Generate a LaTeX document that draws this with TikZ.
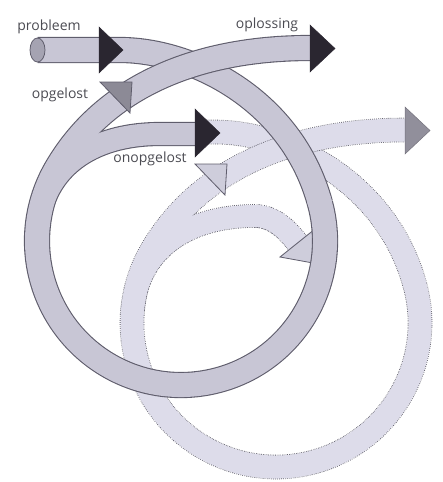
\documentclass[tikz,border=0pt]{standalone}
\usepackage{fontspec}
\setmainfont{Open Sans}
\definecolor{bandfill}{RGB}{200,198,213}
\definecolor{bandline}{RGB}{95,93,108}
\definecolor{dotfill}{RGB}{221,220,234}
\definecolor{dotline}{RGB}{100,99,112}
\definecolor{darkhead}{RGB}{42,38,48}
\definecolor{midhead}{RGB}{140,138,150}
\definecolor{lighthead}{RGB}{206,205,219}
\definecolor{grayhead}{RGB}{145,143,155}
\definecolor{capfill}{RGB}{165,163,178}
\definecolor{txt}{RGB}{75,75,82}
\def\pathA{(37.5,50) -- (120,50) .. controls (190,50) and (291.5,97.7) .. (320.09,203.73)}
\def\pathAd{(105,50) -- (120,50) .. controls (190,50) and (291.5,97.7) .. (320.09,203.73)}
\def\pathLoop{(320.09,203.73) arc[start angle=-15, end angle=210, radius=144] .. controls (101.29,91.06) and (190,48) .. (310,48)}
\def\pathLoopFill{(318.71,198.90) arc[start angle=-17, end angle=210, radius=144] .. controls (101.29,91.06) and (190,48) .. (310,48)}
\def\pathBtwo{(37.55,228.45) .. controls (42.78,168.68) and (90,134) .. (160,134) -- (197,134)}
\def\pathBtwod{(37.55,228.45) .. controls (42.78,168.68) and (90,134) .. (160,134) .. controls (178,134) and (191.5,146.8) .. (202.5,161)}
\begin{document}
\begin{tikzpicture}[x=1pt,y=-1pt,
  solidout/.style={line width=#1, draw=bandline, line cap=butt},
  solidin/.style={line width=#1, draw=bandfill, line cap=butt},
  dotout/.style={line width=#1, draw=dotline, line cap=butt, dash pattern=on 0.8pt off 1.1pt},
  dotin/.style={line width=#1, draw=dotfill, line cap=butt},
  darktip/.style={fill=darkhead, draw=darkhead, line width=0.5pt, line join=miter},
  midtip/.style={fill=midhead, draw=bandline, line width=0.8pt},
  lighttip/.style={fill=lighthead, draw=bandline, line width=0.8pt},
  graytip/.style={fill=grayhead, draw=grayhead!80!black, line width=0.5pt},
  lbl/.style={inner sep=0pt, text=txt, font=\fontsize{14}{16}\selectfont}]
\useasboundingbox (0,0) rectangle (443,482);
% ---------- second (dotted) cycle ----------
\begin{scope}[shift={(95,82)}]
  \draw[dotout=24.6pt] \pathAd;
  \draw[dotin=23pt] \pathAd;
  \draw[dotout=24.6pt] \pathLoop;
  \draw[dotout=23.6pt] \pathBtwod;
  \draw[dotin=23pt] \pathLoopFill;
  \draw[dotin=22pt] \pathBtwod;
  \path[lighttip] (185,175) -- (220,147) -- (218,181) -- cycle;
  \path[graytip] (310,25) -- (335,48.5) -- (310,72) -- cycle;
  \path[lighttip] (100,82) -- (132,82) -- (130,113) -- cycle;
\end{scope}
% ---------- first (solid) cycle ----------
\draw[solidout=26.2pt] \pathA;
\draw[solidin=24pt] \pathA;
\path[fill=capfill, draw=bandline, line width=0.8pt] (37.5,50) ellipse[x radius=7.5, y radius=12];
\path[darktip] (99,27) -- (123,50) -- (99,73) -- cycle;
\draw[solidout=26.2pt] \pathLoop;
\draw[solidout=24.2pt] \pathBtwo;
\draw[solidin=24pt] \pathLoopFill;
\draw[solidin=22pt] \pathBtwo;
\path[midtip] (100,82) -- (132,82) -- (130,113) -- cycle;
\path[darktip] (310,25) -- (335,48.5) -- (310,72) -- cycle;
\path[darktip] (195,109) -- (220,133) -- (195,157) -- cycle;
% ---------- labels ----------
\node[lbl] (probleem) at (49,27) {probleem};
\node[lbl] (opgelost) at (60,95) {opgelost};
\node[lbl] (onopgelost) at (150,159) {onopgelost};
\node[lbl] (oplossing) at (267,25) {oplossing};
\end{tikzpicture}
\end{document}
